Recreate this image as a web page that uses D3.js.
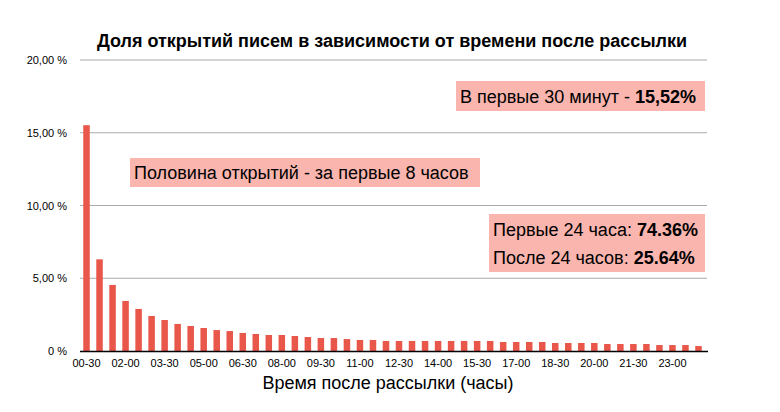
<!DOCTYPE html>
<html>
<head>
<meta charset="utf-8">
<script src="https://cdn.jsdelivr.net/npm/d3@7"></script>
<style>
  body { margin: 0; background: #fff; }
  svg { font-family: "Liberation Sans", Arial, Helvetica, sans-serif; }
</style>
</head>
<body>
<script>
// Time slots after the mailing (30-minute steps)
const slots = [
  "00-30","01-00","01-30","02-00","02-30","03-00","03-30","04-00",
  "04-30","05-00","05-30","06-00","06-30","07-00","07-30","08-00",
  "08-30","09-00","09-30","10-00","10-30","11-00","11-30","12-00",
  "12-30","13-00","13-30","14-00","14-30","15-00","15-30","16-00",
  "16-30","17-00","17-30","18-00","18-30","19-00","19-30","20-00",
  "20-30","21-00","21-30","22-00","22-30","23-00","23-30","24-00"
];
// Share of opens, %
const opens = [
  15.52, 6.30, 4.54, 3.44, 2.89, 2.41, 2.13, 1.86,
  1.72, 1.58, 1.44, 1.37, 1.24, 1.17, 1.10, 1.10,
  1.03, 0.96, 0.89, 0.89, 0.82, 0.76, 0.76, 0.69,
  0.69, 0.69, 0.69, 0.69, 0.69, 0.69, 0.69, 0.69,
  0.62, 0.62, 0.62, 0.62, 0.55, 0.55, 0.55, 0.55,
  0.48, 0.48, 0.48, 0.48, 0.41, 0.41, 0.41, 0.34
];
const yTicks = [0, 5, 10, 15, 20];
const tickSlots = slots.filter((d, i) => i % 3 === 0);

const title = "Доля открытий писем в зависимости от времени после рассылки";
const xTitle = "Время после рассылки (часы)";

const width = 780, height = 412;
const plotLeft = 80, plotRight = 707, plotTop = 60, plotBottom = 351;

const svg = d3.select("body").append("svg")
  .attr("width", width)
  .attr("height", height);

const x = d3.scaleBand()
  .domain(slots)
  .range([plotLeft, 705])
  .paddingInner(0.5)
  .paddingOuter(0.25);

const y = d3.scaleLinear()
  .domain([0, 20])
  .range([plotBottom, plotTop]);

// grid lines
svg.append("g")
  .selectAll("line")
  .data(yTicks.filter(d => d > 0))
  .enter().append("line")
  .attr("x1", plotLeft).attr("x2", plotRight)
  .attr("y1", d => y(d)).attr("y2", d => y(d))
  .attr("stroke", "#aaa")
  .attr("stroke-width", 1);

// y labels
svg.append("g")
  .selectAll("text")
  .data(yTicks)
  .enter().append("text")
  .attr("x", 67)
  .attr("y", d => y(d) + 4)
  .attr("text-anchor", "end")
  .style("font-size", "11px")
  .text(d => d === 0 ? "0 %" : d.toFixed(2).replace(".", ",") + " %");

// bars
svg.append("g")
  .selectAll("rect")
  .data(opens)
  .enter().append("rect")
  .attr("x", (d, i) => x(slots[i]))
  .attr("y", d => y(d))
  .attr("width", x.bandwidth())
  .attr("height", d => y(0) - y(d))
  .attr("fill", "#e8574a");

// x axis line
svg.append("line")
  .attr("x1", plotLeft).attr("x2", 708)
  .attr("y1", y(0) + 0.5).attr("y2", y(0) + 0.5)
  .attr("stroke", "#000")
  .attr("stroke-width", 1.5);

// x tick labels
svg.append("g")
  .selectAll("text")
  .data(tickSlots)
  .enter().append("text")
  .attr("x", d => x(d) + x.bandwidth() / 2)
  .attr("y", 367)
  .attr("text-anchor", "middle")
  .style("font-size", "11px")
  .text(d => d);

// title
svg.append("text")
  .attr("x", 392)
  .attr("y", 47)
  .attr("text-anchor", "middle")
  .style("font-size", "18px")
  .style("font-weight", "bold")
  .text(title);

// x axis title
svg.append("text")
  .attr("x", 388)
  .attr("y", 389)
  .attr("text-anchor", "middle")
  .style("font-size", "18px")
  .text(xTitle);

// annotation boxes
const boxFill = "#f9b5ae";

function note(bx, by, bw, bh, lines) {
  svg.append("rect")
    .attr("x", bx).attr("y", by)
    .attr("width", bw).attr("height", bh)
    .attr("fill", boxFill);
  lines.forEach(l => {
    const t = svg.append("text")
      .attr("x", l.x)
      .attr("y", l.y)
      .style("font-size", "18px");
    t.append("tspan").text(l.plain);
    if (l.bold) t.append("tspan").style("font-weight", "bold").text(l.bold);
  });
}

note(456, 81, 249, 30, [
  { x: 460, y: 103, plain: "В первые 30 минут - ", bold: "15,52%" }
]);
note(130, 158, 350, 29, [
  { x: 134, y: 179, plain: "Половина открытий - за первые 8 часов" }
]);
note(489, 214, 216, 58, [
  { x: 493, y: 236, plain: "Первые 24 часа: ", bold: "74.36%" },
  { x: 493, y: 264, plain: "После 24 часов: ", bold: "25.64%" }
]);
</script>
</body>
</html>
